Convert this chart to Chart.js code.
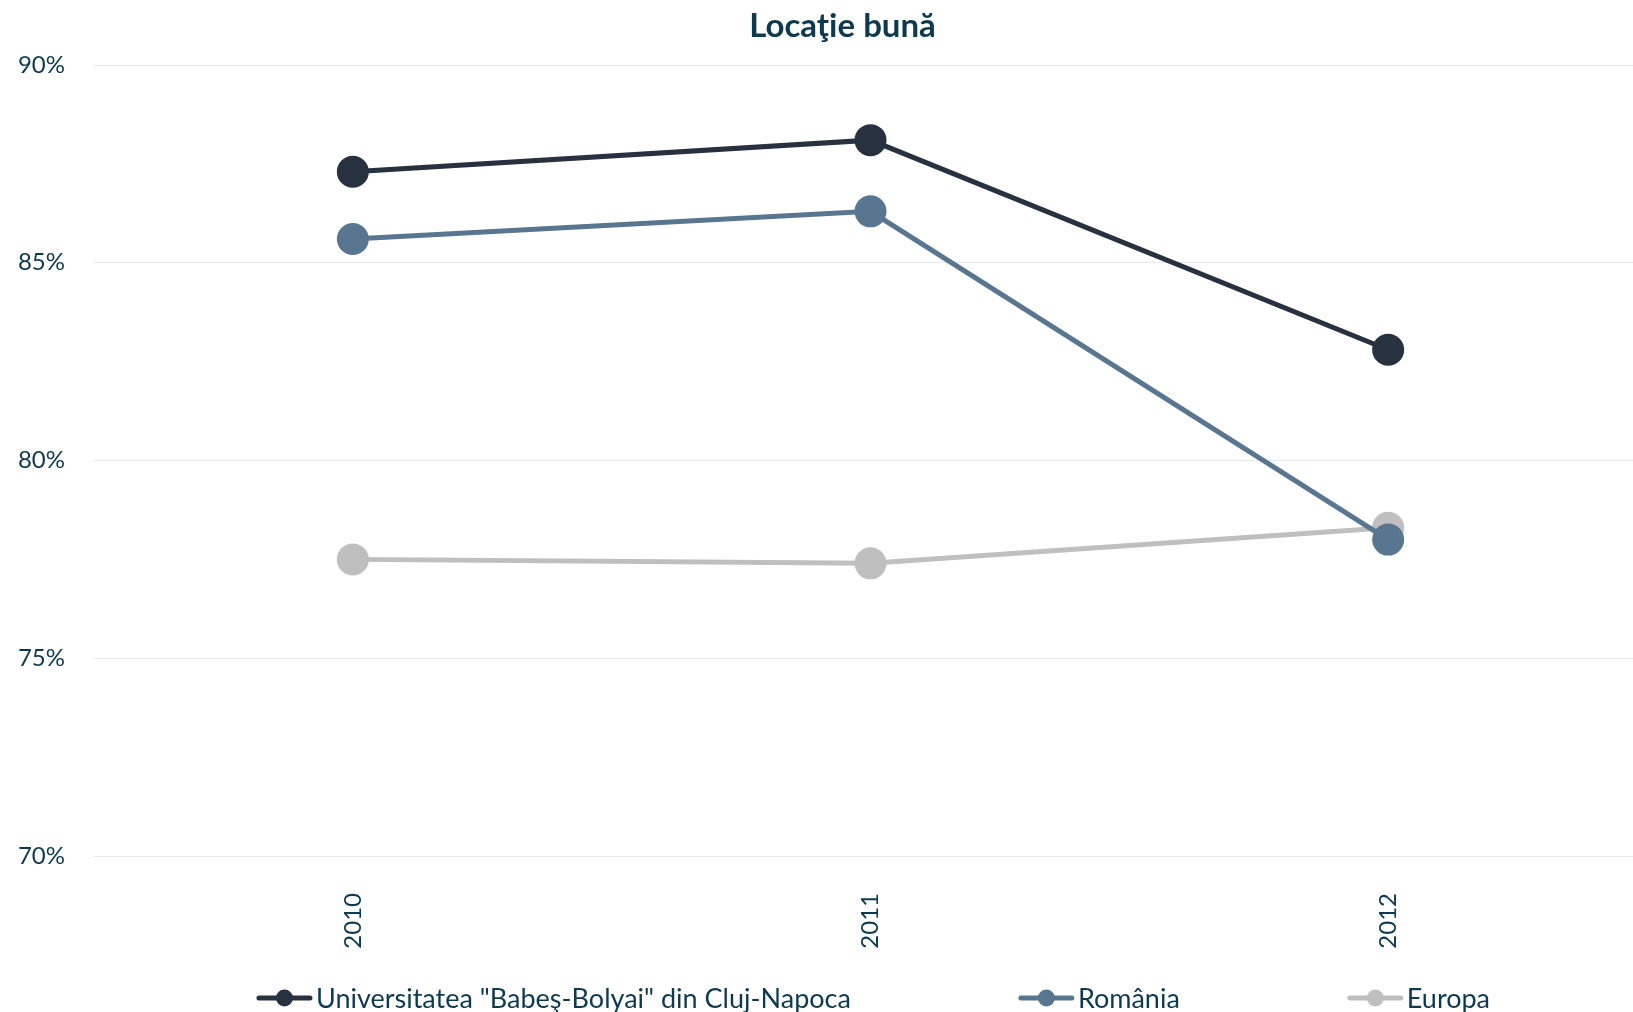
<!DOCTYPE html>
<html lang="ro">
<head>
    <meta charset="UTF-8">
    <title>Locaţie bună</title>
    <script src="https://cdn.jsdelivr.net/npm/chart.js"></script>
    <style>
        html, body { margin: 0; padding: 0; background: #fff; overflow: hidden; }
        /* zona graficului continua putin dincolo de marginea dreapta a ferestrei */
        .wrap { width: 1647px; height: 1012px; position: relative; }
        canvas { display: block; }
    </style>
</head>
<body>
    <div class="wrap">
        <canvas id="chart"></canvas>
    </div>

    <script>
        // Date
        const chartTitle = 'Locaţie bună';
        const years = ['2010', '2011', '2012'];
        const seriesNames = ['Universitatea "Babeş-Bolyai" din Cluj-Napoca', 'România', 'Europa'];
        const ubbValues = [87.3, 88.1, 82.8];
        const romaniaValues = [85.6, 86.3, 78.0];
        const europaValues = [77.5, 77.4, 78.3];
        const seriesColors = ['#283140', '#587690', '#bfbfbf'];

        const textColor = '#0e3a4f';
        const fontFamily = 'Lato, "Open Sans", sans-serif';

        Chart.defaults.font.family = fontFamily;
        Chart.defaults.color = textColor;

        function makeSeries(name, values, color) {
            return {
                label: name,
                data: values,
                borderColor: color,
                backgroundColor: color,
                borderWidth: 5,
                tension: 0,
                pointRadius: 16,
                pointHoverRadius: 16,
                pointBorderWidth: 0,
                pointBackgroundColor: color
            };
        }

        // titlul si legenda desenate manual (legenda are spatii mari intre elemente)
        const titleAndLegend = {
            id: 'titleAndLegend',
            afterDraw(chart) {
                const ctx = chart.ctx;
                const area = chart.chartArea;
                const midX = (area.left + area.right) / 2;
                ctx.save();

                // titlu
                ctx.font = 'bold 33px ' + fontFamily;
                ctx.fillStyle = textColor;
                ctx.textAlign = 'center';
                ctx.textBaseline = 'middle';
                ctx.fillText(chartTitle, midX - 28, 26);

                // legenda
                ctx.font = '27px ' + fontFamily;
                ctx.textAlign = 'left';
                const markerW = 55;
                const textGap = 4;
                const itemGap = 168;
                const items = chart.data.datasets.map(ds => ({
                    text: ds.label,
                    color: ds.borderColor,
                    w: markerW + textGap + ctx.measureText(ds.label).width
                }));
                const total = items.reduce((s, it) => s + it.w, 0) + itemGap * (items.length - 1);
                let x = midX + 3 - total / 2;
                const y = chart.height - 14;
                items.forEach(it => {
                    ctx.strokeStyle = it.color;
                    ctx.lineWidth = 5;
                    ctx.lineCap = 'round';
                    ctx.beginPath();
                    ctx.moveTo(x + 2, y);
                    ctx.lineTo(x + markerW - 2, y);
                    ctx.stroke();
                    ctx.fillStyle = it.color;
                    ctx.beginPath();
                    ctx.arc(x + markerW / 2, y, 8.5, 0, Math.PI * 2);
                    ctx.fill();
                    ctx.fillStyle = textColor;
                    ctx.fillText(it.text, x + markerW + textGap, y + 1);
                    x += it.w + itemGap;
                });
                ctx.restore();
            }
        };

        const ctx = document.getElementById('chart').getContext('2d');
        new Chart(ctx, {
            type: 'line',
            data: {
                labels: years,
                datasets: [
                    makeSeries(seriesNames[0], ubbValues, seriesColors[0]),
                    makeSeries(seriesNames[1], romaniaValues, seriesColors[1]),
                    makeSeries(seriesNames[2], europaValues, seriesColors[2])
                ]
            },
            options: {
                responsive: true,
                maintainAspectRatio: false,
                animation: false,
                layout: {
                    autoPadding: false,
                    padding: { top: 65, left: 16, right: 0, bottom: 58 }
                },
                plugins: {
                    legend: { display: false },
                    title: { display: false },
                    tooltip: { enabled: false }
                },
                scales: {
                    x: {
                        offset: true,
                        border: { display: false },
                        grid: { display: false, drawTicks: false },
                        ticks: {
                            minRotation: 90,
                            maxRotation: 90,
                            padding: 37,
                            font: { size: 24 },
                            color: textColor
                        },
                        afterFit: scale => { scale.height = 98; }
                    },
                    y: {
                        min: 70,
                        max: 90,
                        border: { display: false },
                        grid: { color: '#e6e9ea', lineWidth: 1, drawTicks: false },
                        ticks: {
                            stepSize: 5,
                            padding: 29,
                            font: { size: 24 },
                            color: textColor,
                            callback: v => v + '%'
                        },
                        afterFit: scale => { scale.width = 78; }
                    }
                }
            },
            plugins: [titleAndLegend]
        });
    </script>
</body>
</html>
